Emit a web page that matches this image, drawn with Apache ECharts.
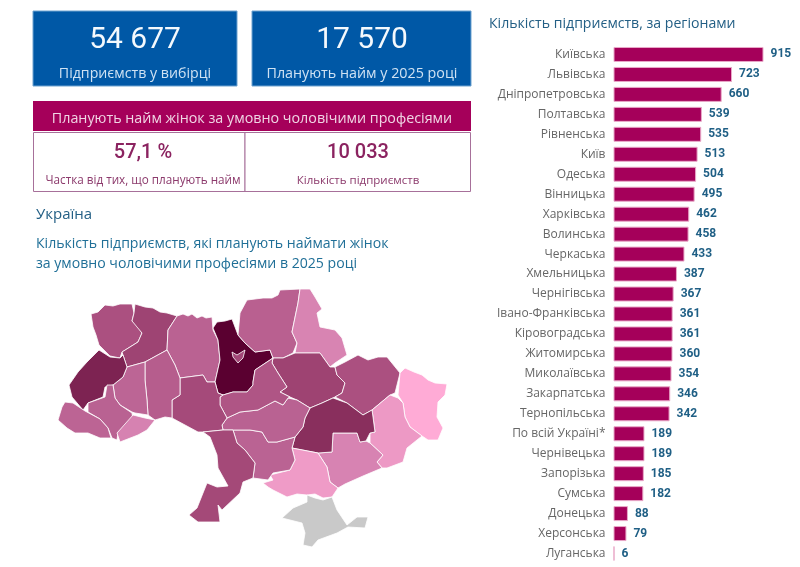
<!DOCTYPE html>
<html><head><meta charset="utf-8">
<style>html,body{margin:0;padding:0;background:#fff}#c{width:800px;height:567px}</style>
<script src="https://cdn.jsdelivr.net/npm/echarts@6/dist/echarts.min.js"></script>
</head><body><div id="c"></div>
<script>
const categories=["Київська","Львівська","Дніпропетровська","Полтавська","Рівненська","Київ","Одеська","Вінницька","Харківська","Волинська","Черкаська","Хмельницька","Чернігівська","Івано-Франківська","Кіровоградська","Житомирська","Миколаївська","Закарпатська","Тернопільська","По всій Україні*","Чернівецька","Запорізька","Сумська","Донецька","Херсонська","Луганська"];
const values=[915,723,660,539,535,513,504,495,462,458,433,387,367,361,361,360,354,346,342,189,189,185,182,88,79,6];
const kpiTop=[["54 677","Підприємств у вибірці"],["17 570","Планують найм у 2025 році"]];
const bannerText="Планують найм жінок за умовно чоловічими професіями";
const kpiBottom=[["57,1 %","Частка від тих, що планують найм"],["10 033","Кількість підприємств"]];
const titles=["Україна","Кількість підприємств, які планують наймати жінок","за умовно чоловічими професіями в 2025 році","Кількість підприємств, за регіонами"];
const nationalRow="По всій Україні*";
// Oblast outlines (geometry of the base map)
const outlines={
"Волинська":[91,314,98,312,105,305,113,306,120,304,132,304,134,313,132,321,138,327,142,333,138,342,122,352,120,358,110,356,99,345,96,335,93,327],
"Рівненська":[135,304,145,307,153,308,160,312,167,313,177,316,168,330,167,350,145,362,127,367,123,355,122,352,138,342,142,333,132,321,134,313],
"Житомирська":[177,316,183,314,188,316,192,314,197,318,202,316,206,318,212,317,213,330,218,340,220,360,215,382,207,382,203,375,180,378,175,365,167,350,168,330],
"Київська":[213,328,217,322,225,321,232,319,238,335,245,343,255,352,270,350,273,358,255,370,253,382,253,385,247,392,233,392,223,395,218,393,215,382,220,360,218,340],
"Київ":[232,352,237,355,245,350,243,358,238,363,233,357],
"Чернігівська":[240,313,247,300,263,298,272,298,278,295,280,290,300,289,298,303,292,332,297,343,293,353,283,358,273,358,270,350,255,352,245,343,238,335],
"Сумська":[300,289,310,289,315,297,322,309,317,313,320,327,335,330,342,338,347,355,335,363,330,367,320,353,310,353,295,353,297,343,292,332,298,303],
"Полтавська":[273,358,283,358,295,353,310,353,320,353,330,367,335,367,337,375,345,383,342,393,335,397,322,403,310,408,297,400,290,397,280,392,287,387,278,373,272,363],
"Харківська":[335,367,345,362,358,355,368,360,378,357,387,357,400,373,395,393,390,395,372,410,363,415,347,403,335,397,342,393,345,383,337,375],
"Луганська":[400,373,405,368,414,372,422,375,428,380,435,383,447,384,445,395,438,402,437,417,443,428,438,440,428,440,422,436,410,427,405,417,403,403,398,395],
"Донецька":[372,410,390,395,398,398,403,403,405,417,410,427,422,436,407,448,403,462,387,468,382,468,377,462,383,455,370,443,370,433,375,432,373,417],
"Запорізька":[333,433,357,433,360,442,366,441,370,443,383,455,377,462,382,468,363,476,345,484,338,488,330,482,327,467,318,453,332,452],
"Дніпропетровська":[295,437,303,427,305,418,310,408,322,403,333,398,347,403,363,415,372,410,373,417,375,432,370,433,366,441,360,442,357,433,333,433,332,452,318,453,292,448],
"Херсонська":[292,448,318,453,327,467,330,482,338,488,332,497,323,498,315,494,307,495,297,494,287,497,273,490,268,487,263,483,273,480,270,475,290,470,295,460],
"Миколаївська":[233,430,250,430,262,432,268,442,277,442,295,437,292,448,295,460,290,470,273,473,268,480,253,478,255,463,245,450,237,443],
"Кіровоградська":[227,418,240,412,258,410,275,401,283,405,288,398,297,400,310,408,305,418,303,427,295,437,277,442,268,442,262,432,250,430,233,430,223,430,222,425],
"Черкаська":[223,395,233,392,247,392,253,385,253,382,255,370,273,358,272,363,278,373,287,387,280,392,290,397,288,398,283,405,275,401,258,410,240,412,227,418,220,405,220,397],
"Вінницька":[180,378,203,375,207,382,215,382,218,393,223,395,220,397,220,405,227,418,222,425,223,430,203,432,198,432,185,425,172,418,172,400,180,395],
"Одеська":[203,432,223,430,233,430,237,443,245,450,255,463,253,478,243,482,240,493,222,510,218,505,220,522,198,522,189,515,197,508,207,483,217,487,228,486,218,468,217,455,210,437],
"Хмельницька":[145,362,167,350,175,365,180,378,180,395,172,400,172,418,165,417,155,420,148,415,147,400,145,380],
"Тернопільська":[127,367,145,362,145,380,147,400,148,415,135,413,132,412,120,405,115,398,113,385,123,377],
"Львівська":[99,350,110,357,120,358,123,355,127,367,123,377,113,385,105,387,103,397,88,403,83,410,72,397,69,385,78,372,87,362],
"Івано-Франківська":[88,403,105,397,107,385,113,385,115,398,120,405,132,413,133,420,118,432,117,440,112,438,108,428,100,419,88,412],
"Закарпатська":[65,402,73,403,85,411,100,419,108,428,111,438,100,438,88,433,75,433,67,428,58,420,62,407],
"Чернівецька":[133,415,145,418,155,420,147,430,138,435,120,442,117,433],
"Крим":[307,495,315,498,323,500,332,497,337,510,347,525,357,517,368,517,365,528,348,527,337,533,318,540,312,547,303,545,305,533,302,523,282,518,293,508,307,502]
};
const features=Object.keys(outlines).map(name=>{
  const f=outlines[name],ring=[];
  for(let i=0;i<f.length;i+=2)ring.push([f[i],-f[i+1]]);
  ring.push(ring[0]);
  return {type:"Feature",properties:{name},geometry:{type:"Polygon",coordinates:[ring]}};
});
echarts.registerMap("ua",{type:"FeatureCollection",features});
const mapData=categories.map((n,i)=>({name:n,value:values[i]})).filter(d=>d.name!==nationalRow);

const blue="#0058a6",mag="#a5005a",plum="#8b2360",teal="#1f6f97";
const rect=(x,y,w,h,fill,stroke)=>({type:"rect",silent:true,shape:{x,y,width:w,height:h},style:{fill,stroke:stroke||null,lineWidth:stroke?1:0}});
const text=(x,y,t,size,fill,align,font,weight)=>({type:"text",silent:true,x,y,style:{text:t,fontSize:size,fill,align:align||"center",verticalAlign:"middle",fontFamily:font||"Open Sans",fontWeight:weight||"normal"}});
const el=[
 rect(33,11,204,75,blue,"#6fa3d0"),rect(252,11,219,75,blue,"#6fa3d0"),
 text(135,40,kpiTop[0][0],30,"#f4f9fd","center","Roboto",400),text(135,74,kpiTop[0][1],14.2,"#cfe2f3"),
 text(362,40,kpiTop[1][0],30,"#f4f9fd","center","Roboto",400),text(362,74,kpiTop[1][1],14.3,"#cfe2f3"),
 rect(33,101,438,30,mag),text(252,119,bannerText,14.3,"#f0d5e4"),
 rect(33.5,132.5,211.5,59,"#fff","#a7709a"),rect(245,132.5,225.5,59,"#fff","#a7709a"),
 text(143,153,kpiBottom[0][0],20,plum,"center","Roboto",500),text(143,181,kpiBottom[0][1],11.7,"#8c3a6c"),
 text(358,153,kpiBottom[1][0],20,plum,"center","Roboto",500),text(358,181,kpiBottom[1][1],11.5,"#8c3a6c"),
 text(36,215,titles[0],15,"#235f85","left"),
 text(36,244,titles[1],14.1,teal,"left"),text(36,264,titles[2],14.1,teal,"left"),
 text(489,24,titles[3],14.1,"#235f85","left")
];
const chart=echarts.init(document.getElementById("c"),null,{renderer:"canvas"});
chart.setOption({
 animation:false,backgroundColor:"#fff",
 graphic:{elements:el},
 grid:{left:613.5,top:44.5,width:150,height:519,containLabel:false},
 xAxis:{type:"value",min:0,max:915,show:false},
 yAxis:{type:"category",inverse:true,data:categories,axisLine:{show:false},axisTick:{show:false},
   axisLabel:{fontFamily:"Open Sans",fontSize:12,color:"#666",margin:8}},
 visualMap:{show:false,type:"continuous",seriesIndex:1,min:6,max:915,inRange:{color:["#ffabd6","#cc78a8","#ab5080","#842a58","#5a0030"]}},
 series:[
  {type:"bar",data:values,barWidth:15,itemStyle:{color:"#a5005a",borderColor:"#e9a9c8",borderWidth:1},
   label:{show:true,position:"right",distance:7,color:"#1f5f85",fontFamily:"Roboto",fontWeight:700,fontSize:12}},
  {type:"map",map:"ua",aspectScale:1,left:58,top:289,width:389,height:258,roam:false,selectedMode:false,silent:true,
   data:mapData,label:{show:false},
   itemStyle:{areaColor:"#c9c9c9",borderColor:"#fff",borderWidth:0.8},
   emphasis:{disabled:true}}
 ]
});
</script></body></html>
